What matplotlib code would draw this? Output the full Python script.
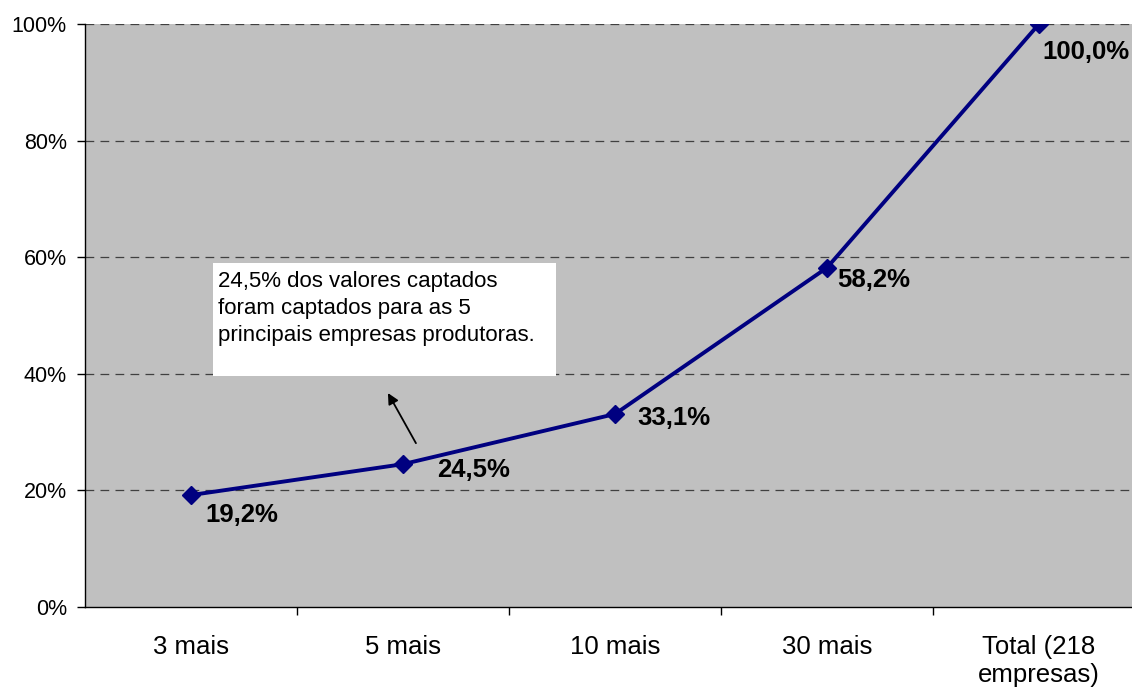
import matplotlib
matplotlib.use("Agg")
import matplotlib.pyplot as plt
from matplotlib.ticker import FuncFormatter

plt.rcParams['font.family'] = ['Liberation Sans', 'DejaVu Sans']

# Participação acumulada das empresas nos valores captados
categorias = ["3 mais", "5 mais", "10 mais", "30 mais", "Total (218\nempresas)"]
valores = [19.2, 24.5, 33.1, 58.2, 100.0]
rotulos = ["19,2%", "24,5%", "33,1%", "58,2%", "100,0%"]
nota = "24,5% dos valores captados\nforam captados para as 5\nprincipais empresas produtoras."

fig = plt.figure(figsize=(11.32, 6.90), dpi=100)
ax = fig.add_axes([85 / 1132, 83 / 690, 1060 / 1132, 583 / 690])
ax.set_facecolor("#C0C0C0")

x = list(range(len(categorias)))
ax.plot(x, valores, color="#000080", lw=2.8, marker="D", ms=9.5, zorder=3)

# deslocamento (px) da linha de base de cada rótulo em relação ao ponto
desloc = [(14, -27), (34, -13), (22, -11), (10, -19), (3, -35)]
for xi, v, r, d in zip(x, valores, rotulos, desloc):
    ax.annotate(r, (xi, v), xytext=d, textcoords="offset pixels",
                ha="left", va="baseline", fontsize=18.5, fontweight="bold", zorder=4)

ax.set_xlim(-0.5, len(categorias) - 0.5)
ax.set_ylim(0, 100)
ax.set_yticks(range(0, 101, 20))
ax.yaxis.set_major_formatter(FuncFormatter(lambda v, p: f"{v:.0f}%"))
ax.set_xticks(x)
ax.set_xticklabels(categorias, fontsize=18.5, linespacing=1.2)
ax.set_xticks([i + 0.5 for i in x[:-1]], minor=True)
ax.tick_params(axis="x", which="major", length=0, pad=20)
ax.tick_params(axis="x", which="minor", length=6, width=1, direction="out")
ax.tick_params(axis="y", length=6, width=1, labelsize=15.5, pad=7)

for g in range(20, 101, 20):
    ax.axhline(g, color="#404040", lw=0.9, ls=(0, (7, 5)), zorder=1)

for s in ["top", "right"]:
    ax.spines[s].set_visible(False)
ax.spines["left"].set_linewidth(1)
ax.spines["bottom"].set_linewidth(1)

# caixa de observação com seta
ax.add_patch(plt.Rectangle((0.1208, 0.396), 0.3236, 0.194, transform=ax.transAxes,
                           fc="white", ec="none", zorder=4))
ax.text(0.1255, 0.576, nota, transform=ax.transAxes, ha="left", va="top", fontsize=16,
        linespacing=1.38, zorder=5)
ax.annotate("", xy=(0.929, 36.7), xytext=(1.061, 28.1),
            arrowprops=dict(arrowstyle="-|>", color="black", lw=1.3,
                            mutation_scale=16, shrinkA=0, shrinkB=0), zorder=5)

fig.savefig("out.png", dpi=100)
